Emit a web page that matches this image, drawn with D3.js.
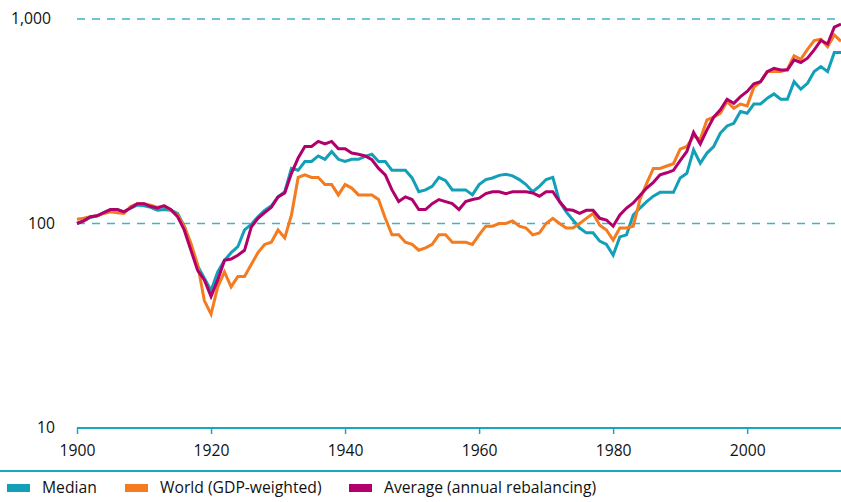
<!DOCTYPE html>
<html>
<head>
<meta charset="utf-8">
<script src="https://cdn.jsdelivr.net/npm/d3@7"></script>
<style>
  body { margin: 0; background: #fff; }
  svg text { font-family: "Open Sans", "Noto Sans", sans-serif; fill: #111; }
</style>
</head>
<body>
<div class="chart"></div>
<script>
const years = d3.range(1900, 2015);

const median = [
  100, 103, 107, 109, 113, 117, 117, 114, 119, 123,
  122, 120, 116, 117, 116, 112, 97, 77, 62, 54,
  47, 58, 66, 72, 77, 93, 99, 108, 116, 122,
  135, 143, 186, 182, 201, 201, 214, 206, 225, 206,
  201, 206, 206, 213, 218, 201, 201, 182, 182, 182,
  167, 143, 146, 152, 168, 162, 146, 146, 146, 138,
  155, 164, 167, 172, 174, 171, 164, 155, 143, 152,
  164, 168, 128, 114, 104, 95, 90, 90, 82, 79,
  70, 86, 88, 110, 119, 128, 136, 142, 142, 142,
  167, 176, 229, 197, 221, 238, 277, 300, 309, 353,
  346, 384, 384, 410, 430, 405, 405, 494, 454, 485,
  553, 585, 553, 685, 685
];

const world = [
  105, 106, 108, 109, 112, 114, 113, 112, 121, 125,
  125, 123, 120, 122, 116, 110, 97, 80, 63, 42,
  36, 49, 58, 49, 55, 55, 63, 72, 79, 81,
  93, 85, 110, 168, 173, 168, 168, 155, 155, 138,
  155, 149, 138, 138, 138, 131, 106, 88, 88, 81,
  79, 74, 76, 79, 88, 88, 81, 81, 81, 79,
  88, 97, 97, 100, 100, 103, 97, 95, 88, 90,
  100, 106, 100, 95, 95, 100, 106, 112, 98, 93,
  83, 95, 95, 97, 131, 157, 186, 186, 191, 196,
  231, 238, 268, 258, 321, 331, 346, 395, 366, 384,
  376, 464, 494, 553, 553, 553, 568, 661, 635, 711,
  785, 797, 733, 836, 778
];

const average = [
  100, 103, 108, 109, 113, 117, 117, 114, 119, 125,
  125, 121, 119, 122, 117, 108, 93, 74, 59, 53,
  44, 53, 66, 67, 70, 74, 96, 106, 113, 120,
  135, 141, 176, 209, 238, 238, 252, 245, 252, 232,
  232, 221, 218, 214, 205, 186, 173, 146, 128, 135,
  131, 117, 117, 125, 131, 128, 125, 117, 128, 131,
  133, 140, 143, 143, 140, 143, 143, 143, 141, 136,
  143, 143, 128, 117, 116, 112, 116, 116, 106, 104,
  97, 110, 119, 126, 137, 149, 159, 173, 177, 182,
  203, 225, 279, 245, 287, 331, 360, 405, 387, 417,
  442, 482, 494, 553, 574, 563, 563, 631, 613, 643,
  706, 785, 755, 912, 943
];

const xTicks = [1900, 1920, 1940, 1960, 1980, 2000];
const yTicks = [10, 100, 1000];
const seriesNames = ["Median", "World (GDP-weighted)", "Average (annual rebalancing)"];
const colors = ["#139fb8", "#f47b20", "#b1006b"];
const teal = "#1aa6c0";

const width = 841, height = 502;
const plotLeft = 77, plotRight = 841, plotTop = 19, plotBottom = 428;
const fontSize = "15.7px";

const svg = d3.select(".chart").append("svg")
  .attr("width", width).attr("height", height);

const x = d3.scaleLinear().domain([1900, 2014]).range([plotLeft, plotRight]);
const y = d3.scaleLog().domain([10, 1000]).range([plotBottom, plotTop]);

// gridlines at 100 and 1,000
svg.append("g")
  .selectAll("line")
  .data(yTicks.filter(d => d > 10))
  .join("line")
  .attr("x1", plotLeft).attr("x2", plotRight)
  .attr("y1", d => y(d)).attr("y2", d => y(d))
  .attr("stroke", "#3fb3c9")
  .attr("stroke-width", 1.5)
  .style("stroke-dasharray", "8,7");

// y labels
svg.append("g")
  .selectAll("text")
  .data(yTicks)
  .join("text")
  .attr("x", d => d == 1000 ? 51 : 55)
  .attr("y", d => y(d))
  .attr("dy", "0.35em")
  .attr("text-anchor", "end")
  .style("font-size", fontSize)
  .text(d => d3.format(",")(d));

// x axis
const xAxis = d3.axisBottom(x)
  .tickValues(xTicks)
  .tickFormat(d3.format("d"))
  .tickSize(6)
  .tickPadding(11);

const gx = svg.append("g")
  .attr("transform", "translate(0," + plotBottom + ")")
  .call(xAxis);
gx.select(".domain").attr("stroke", teal).attr("stroke-width", 2).attr("d", "M" + plotLeft + ",0H" + plotRight);
gx.selectAll(".tick line").attr("stroke", teal).attr("stroke-width", 1.5);
gx.selectAll(".tick text")
  .style("font-size", fontSize)
  .style("font-family", "'Open Sans', 'Noto Sans', sans-serif")
  .attr("fill", "#111");

// lines
const line = d3.line()
  .x((d, i) => x(years[i]))
  .y(d => y(d));

svg.append("g")
  .selectAll("path")
  .data([median, world, average])
  .join("path")
  .attr("d", d => line(d))
  .attr("fill", "none")
  .attr("stroke", (d, i) => colors[i])
  .attr("stroke-width", 3)
  .attr("stroke-linejoin", "miter");

// legend
svg.append("line")
  .attr("x1", 0).attr("x2", width)
  .attr("y1", 471).attr("y2", 471)
  .attr("stroke", teal).attr("stroke-width", 2);

const legendX = [7, 125, 349];
const lg = svg.append("g")
  .selectAll("g")
  .data(seriesNames)
  .join("g")
  .attr("transform", (d, i) => "translate(" + legendX[i] + ",0)");

lg.append("rect")
  .attr("x", 0).attr("y", 484)
  .attr("width", 23).attr("height", 8)
  .attr("fill", (d, i) => colors[i]);

lg.append("text")
  .attr("x", 35).attr("y", 488)
  .attr("dy", "0.35em")
  .style("font-size", fontSize)
  .text(d => d);
</script>
</body>
</html>
